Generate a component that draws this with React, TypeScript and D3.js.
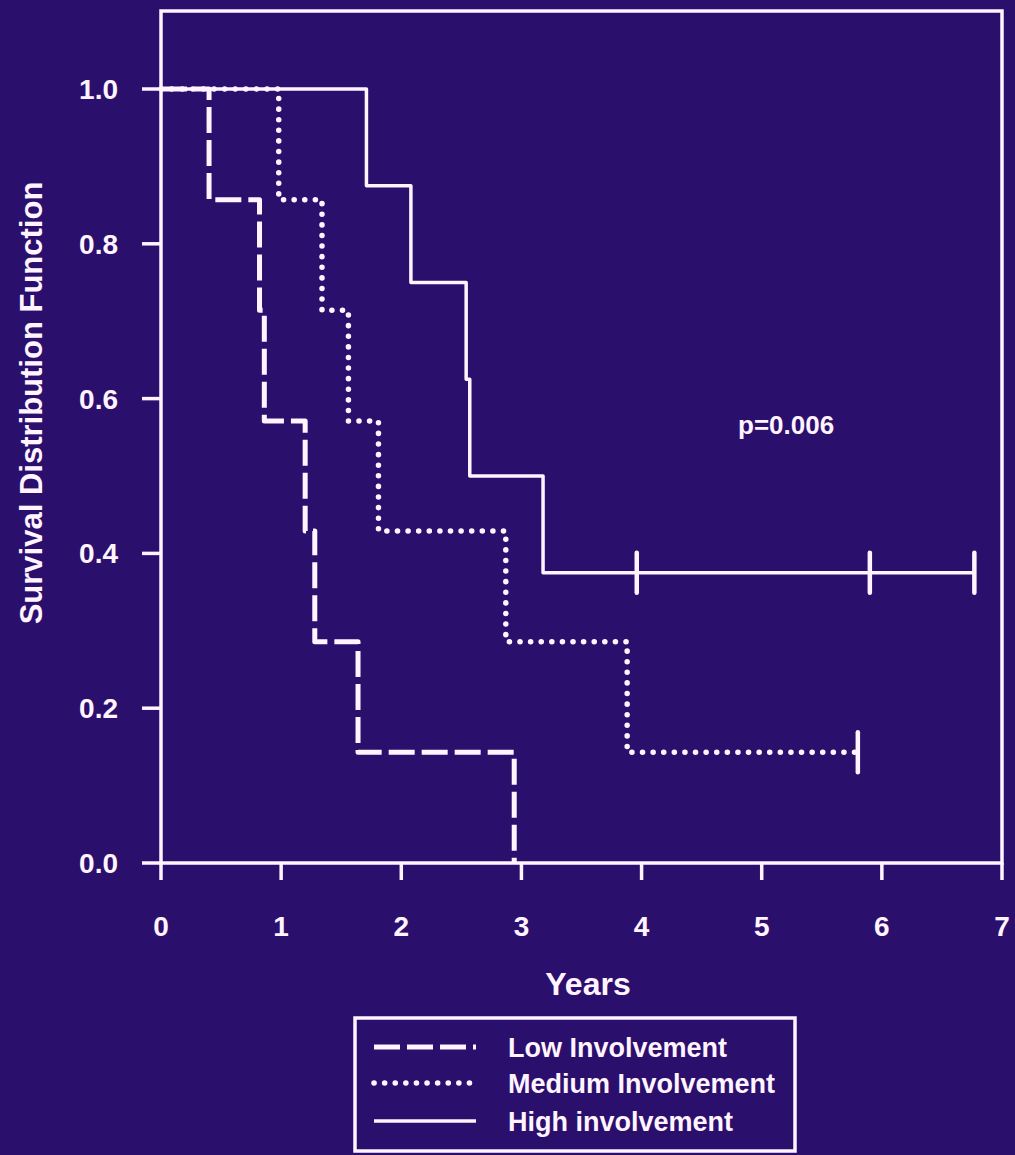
import React, { useRef, useEffect } from 'react';
import * as d3 from 'd3';

// Kaplan-Meier steps (time in years, survival after the step)
const lowTimes = [0, 0.40, 0.82, 0.86, 1.20, 1.28, 1.64, 2.94];
const lowSurvival = [1, 0.857, 0.714, 0.571, 0.429, 0.286, 0.143, 0];

const mediumTimes = [0, 0.98, 1.34, 1.56, 1.81, 2.87, 3.88, 5.80];
const mediumSurvival = [1, 0.857, 0.714, 0.571, 0.429, 0.286, 0.143, 0.143];
const mediumCensored = [5.80];

const highTimes = [0, 1.71, 2.08, 2.54, 2.57, 3.18, 6.77];
const highSurvival = [1, 0.875, 0.75, 0.625, 0.5, 0.375, 0.375];
const highCensored = [3.96, 5.90, 6.77];

const xTicks = [0, 1, 2, 3, 4, 5, 6, 7];
const yTicks = [0, 0.2, 0.4, 0.6, 0.8, 1.0];

const legendLabels = ['Low Involvement', 'Medium Involvement', 'High involvement'];

const BG = '#2b0f6c';
const FG = '#fff4ff';
const FONT = '"Liberation Sans", Arial, Helvetica, sans-serif';

const SurvivalChart = () => {
    const svgRef = useRef(null);

    useEffect(() => {
        if (svgRef.current) {
            drawChart(svgRef.current);
        }
    }, []);

    return (
        <div style={{ position: 'absolute', left: 0, top: 0 }}>
            <svg ref={svgRef} width={1015} height={1155} style={{ display: 'block' }}></svg>
        </div>
    );
};

function drawChart(node) {
    const svg = d3.select(node);
    svg.selectAll('*').remove();

    svg.append('rect')
        .attr('width', 1015)
        .attr('height', 1155)
        .attr('fill', BG);

    const left = 161, right = 1002, top = 11, bottom = 863;

    const x = d3.scaleLinear().domain([0, 7]).range([left, right]);
    const y = d3.scaleLinear().domain([0, 1]).range([bottom, 89]);

    // frame
    svg.append('rect')
        .attr('x', left)
        .attr('y', top)
        .attr('width', right - left)
        .attr('height', bottom - top)
        .attr('fill', 'none')
        .attr('stroke', FG)
        .attr('stroke-width', 3.5);

    // y axis ticks + labels
    const yAxis = svg.append('g');
    yAxis.selectAll('line')
        .data(yTicks)
        .enter().append('line')
        .attr('x1', left - 19)
        .attr('x2', left)
        .attr('y1', d => y(d))
        .attr('y2', d => y(d))
        .attr('stroke', FG)
        .attr('stroke-width', 3.5);
    yAxis.selectAll('text')
        .data(yTicks)
        .enter().append('text')
        .attr('x', 118)
        .attr('y', d => y(d) + 10)
        .attr('text-anchor', 'end')
        .style('font-family', FONT)
        .style('font-weight', 'bold')
        .style('font-size', '28px')
        .attr('fill', FG)
        .text(d => d3.format('.1f')(d));

    // x axis ticks + labels
    const xAxis = svg.append('g');
    xAxis.selectAll('line')
        .data(xTicks)
        .enter().append('line')
        .attr('x1', d => x(d))
        .attr('x2', d => x(d))
        .attr('y1', bottom)
        .attr('y2', bottom + 17)
        .attr('stroke', FG)
        .attr('stroke-width', 3.5);
    xAxis.selectAll('text')
        .data(xTicks)
        .enter().append('text')
        .attr('x', d => x(d))
        .attr('y', 936)
        .attr('text-anchor', 'middle')
        .style('font-family', FONT)
        .style('font-weight', 'bold')
        .style('font-size', '28px')
        .attr('fill', FG)
        .text(d => d);

    svg.append('text')
        .attr('x', 588)
        .attr('y', 995)
        .attr('text-anchor', 'middle')
        .style('font-family', FONT)
        .style('font-weight', 'bold')
        .style('font-size', '32px')
        .attr('fill', FG)
        .text('Years');

    svg.append('text')
        .attr('transform', 'translate(42,403) rotate(-90)')
        .attr('text-anchor', 'middle')
        .style('font-family', FONT)
        .style('font-weight', 'bold')
        .style('font-size', '31px')
        .attr('fill', FG)
        .text('Survival Distribution Function');

    svg.append('text')
        .attr('x', 738)
        .attr('y', 434)
        .style('font-family', FONT)
        .style('font-weight', 'bold')
        .style('font-size', '26px')
        .attr('fill', FG)
        .text('p=0.006');

    const line = d3.line()
        .x(d => x(d[0]))
        .y(d => y(d[1]))
        .curve(d3.curveStepAfter);

    const styles = [
        { dash: '26 7', width: 5, cap: 'butt' },
        { dash: '0.1 10.5', width: 5.5, cap: 'round' },
        { dash: null, width: 3.5, cap: 'butt' }
    ];

    const series = [
        { times: lowTimes, surv: lowSurvival, censored: [] },
        { times: mediumTimes, surv: mediumSurvival, censored: mediumCensored },
        { times: highTimes, surv: highSurvival, censored: highCensored }
    ];

    series.forEach(function (s, i) {
        const pts = s.times.map((t, k) => [t, s.surv[k]]);
        svg.append('path')
            .attr('d', line(pts))
            .attr('fill', 'none')
            .attr('stroke', FG)
            .attr('stroke-width', styles[i].width)
            .attr('stroke-linecap', styles[i].cap)
            .attr('stroke-linejoin', 'round')
            .attr('stroke-dasharray', styles[i].dash);

        const lastSurv = s.surv[s.surv.length - 1];
        svg.selectAll(null)
            .data(s.censored)
            .enter().append('line')
            .attr('x1', d => x(d))
            .attr('x2', d => x(d))
            .attr('y1', y(lastSurv) - 20)
            .attr('y2', y(lastSurv) + 20)
            .attr('stroke', FG)
            .attr('stroke-width', 4.5)
            .attr('stroke-linecap', 'round');
    });

    // legend
    const legend = svg.append('g');
    legend.append('rect')
        .attr('x', 355)
        .attr('y', 1018)
        .attr('width', 440)
        .attr('height', 133)
        .attr('fill', 'none')
        .attr('stroke', FG)
        .attr('stroke-width', 3.5);

    const rowY = [1047, 1083, 1121];
    legendLabels.forEach(function (label, i) {
        legend.append('line')
            .attr('x1', 374)
            .attr('x2', 476)
            .attr('y1', rowY[i])
            .attr('y2', rowY[i])
            .attr('stroke', FG)
            .attr('stroke-width', styles[i].width)
            .attr('stroke-linecap', styles[i].cap)
            .attr('stroke-dasharray', styles[i].dash);

        legend.append('text')
            .attr('x', 508)
            .attr('y', rowY[i] + 10)
            .style('font-family', FONT)
            .style('font-weight', 'bold')
            .style('font-size', '27px')
            .attr('fill', FG)
            .text(label);
    });
}

export default function App() {
    return <SurvivalChart />;
}
